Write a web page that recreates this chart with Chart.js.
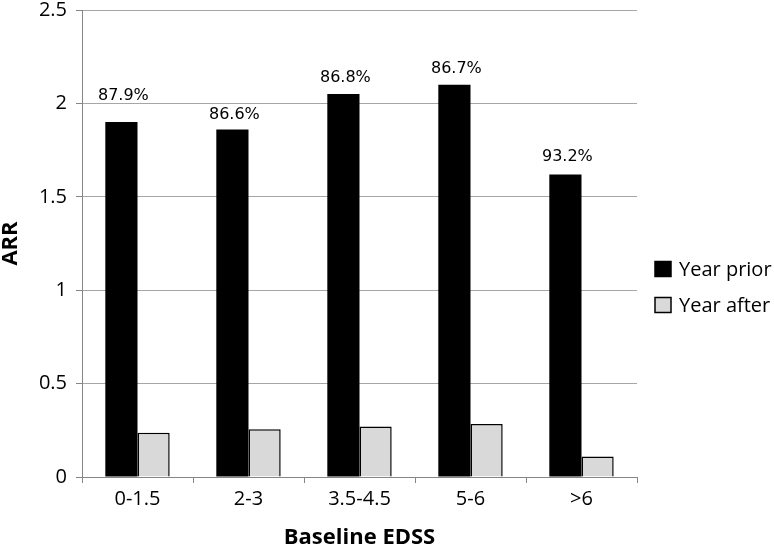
<!DOCTYPE html>
<html>
<head>
<meta charset="utf-8">
<script src="https://cdn.jsdelivr.net/npm/chart.js@4.4.0/dist/chart.umd.min.js"></script>
<style>
html,body{margin:0;padding:0;background:#fff;}
#wrap{width:774px;height:549px;position:relative;}
</style>
</head>
<body>
<div id="wrap"><canvas id="c" width="774" height="549"></canvas></div>
<script>
const categories = ["0-1.5", "2-3", "3.5-4.5", "5-6", ">6"];
const yearPrior = [1.90, 1.86, 2.05, 2.10, 1.62];
const yearAfter = [0.237, 0.255, 0.27, 0.284, 0.11];
const reductionLabels = ["87.9%", "86.6%", "86.8%", "86.7%", "93.2%"];
const seriesNames = ["Year prior", "Year after"];
const yTicks = { min: 0, max: 2.5, step: 0.5 };

const tickFont = { family: "'Open Sans'", size: 20 };
const titleFont = { family: "'Open Sans'", size: 22, weight: "bold", lineHeight: 1 };

const labelPlugin = {
  id: "pctLabels",
  afterDatasetsDraw(chart) {
    const ctx = chart.ctx;
    const meta = chart.getDatasetMeta(0);
    const lift = [22, 11, 12, 12, 13];
    ctx.save();
    ctx.font = "16px 'DejaVu Sans'";
    ctx.fillStyle = "#000";
    ctx.textAlign = "center";
    ctx.textBaseline = "alphabetic";
    meta.data.forEach((bar, i) => {
      ctx.fillText(reductionLabels[i], bar.x + 2, bar.y - lift[i]);
    });
    ctx.restore();
  }
};

const legendPlugin = {
  id: "sideLegend",
  afterDraw(chart) {
    const ctx = chart.ctx;
    const x = chart.chartArea.right + 18;
    const ys = [269, 305];
    ctx.save();
    ctx.font = "20px 'Open Sans'";
    ctx.textBaseline = "middle";
    chart.data.datasets.forEach((ds, i) => {
      ctx.fillStyle = ds.backgroundColor;
      ctx.fillRect(x, ys[i] - 7.5, 16, 15);
      ctx.strokeStyle = "#000";
      ctx.lineWidth = 1.5;
      ctx.strokeRect(x, ys[i] - 7.5, 16, 15);
      ctx.fillStyle = "#000";
      ctx.fillText(ds.label, x + 24, ys[i] + 1);
    });
    ctx.restore();
  }
};

new Chart(document.getElementById("c"), {
  type: "bar",
  data: {
    labels: categories,
    datasets: [
      { label: seriesNames[0], data: yearPrior, backgroundColor: "#000000", borderColor: "#000000", borderWidth: 0 },
      { label: seriesNames[1], data: yearAfter, backgroundColor: "#d9d9d9", borderColor: "#000000", borderWidth: 1.5 }
    ]
  },
  options: {
    responsive: false,
    animation: false,
    devicePixelRatio: 1,
    layout: { padding: { left: 0, right: 137, top: 0, bottom: 0 } },
    plugins: { legend: { display: false }, tooltip: { enabled: false } },
    datasets: { bar: { categoryPercentage: 0.58, barPercentage: 1.0 } },
    scales: {
      x: {
        grid: { display: true, drawOnChartArea: false, drawTicks: true, tickLength: 6, offset: true, color: "#868686", tickColor: "#868686" },
        border: { color: "#868686", width: 1 },
        ticks: { font: tickFont, color: "#000", padding: 4, maxRotation: 0 },
        title: { display: true, text: "Baseline EDSS", font: titleFont, color: "#000", padding: { top: 0, bottom: 0 } },
        afterFit(scale) { scale.height = 72; scale.paddingLeft = 0; scale.paddingRight = 0; }
      },
      y: {
        min: yTicks.min, max: yTicks.max,
        grid: { color: "#a6a6a6", tickColor: "#868686", tickLength: 6, drawTicks: true },
        border: { color: "#868686", width: 1 },
        ticks: { stepSize: yTicks.step, font: tickFont, color: "#000", padding: 9, callback: (v) => String(v) },
        title: { display: true, text: "ARR", font: titleFont, color: "#000", padding: { top: 0, bottom: 0 } },
        afterFit(scale) { scale.width = 82; scale.paddingTop = 10; scale.paddingBottom = 0; }
      }
    }
  },
  plugins: [labelPlugin, legendPlugin]
});
</script>
</body>
</html>
